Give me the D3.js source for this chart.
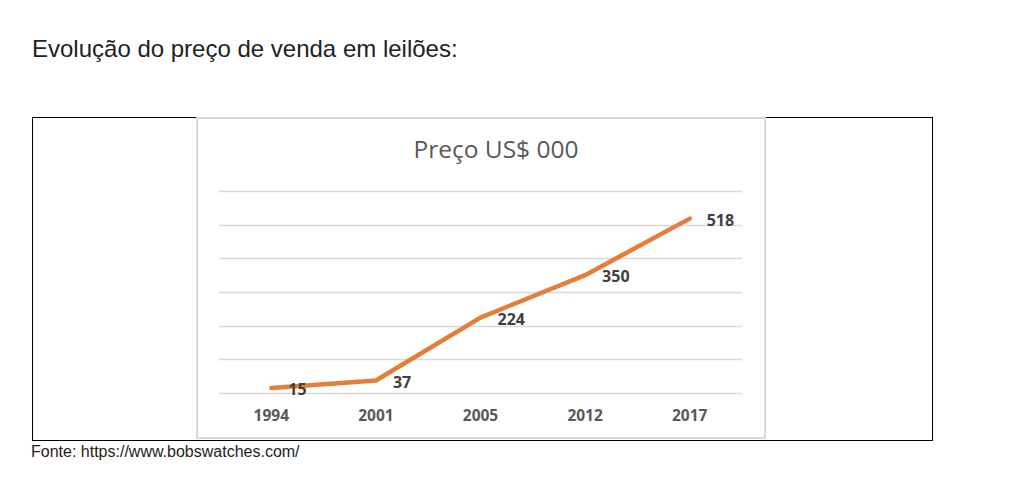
<!DOCTYPE html>
<html>
    <head>
        <meta charset="utf-8">
        <script src="https://d3js.org/d3.v7.min.js"></script>
        <style>
            body { margin: 0; background: #fff; }
        </style>
    </head>
    <body>
        <svg height="489" width="1019" id="chart"></svg>
        <script>
            // data
            const years=["1994", "2001", "2005", "2012", "2017"];
            const prices=[15, 37, 224, 350, 518];
            const yTicks=[0, 100, 200, 300, 400, 500, 600];

            let svg=d3.select("#chart");

            // page heading + source line
            svg.append("text")
                .attr("x", 32).attr("y", 57)
                .style("font-family", "Liberation Sans, Arial, sans-serif")
                .style("font-size", "24px")
                .style("fill", "#222")
                .text("Evolução do preço de venda em leilões:");

            svg.append("text")
                .attr("x", 31).attr("y", 457)
                .style("font-family", "Liberation Sans, Arial, sans-serif")
                .style("font-size", "16px")
                .style("fill", "#222")
                .text("Fonte: https://www.bobswatches.com/");

            // outer black frame
            svg.append("rect")
                .attr("x", 32.5).attr("y", 117.5)
                .attr("width", 900).attr("height", 323)
                .style("fill", "none").style("stroke", "#000").style("stroke-width", 1);

            // inner chart frame
            svg.append("rect")
                .attr("x", 197).attr("y", 118)
                .attr("width", 568).attr("height", 320)
                .style("fill", "#fff").style("stroke", "#d9d9d9").style("stroke-width", 2);

            svg.append("text")
                .attr("x", 496).attr("y", 158)
                .attr("text-anchor", "middle")
                .style("font-family", "Open Sans, sans-serif")
                .style("font-size", "24.5px")
                .style("fill", "#595959")
                .text("Preço US$ 000");

            let x=d3.scaleBand().domain(years).range([219, 742]);
            let y=d3.scaleLinear().domain([0, 600]).range([393, 191]);

            // gridlines
            svg.append("g").selectAll("line")
                .data(yTicks)
                .join("line")
                .attr("x1", 219).attr("x2", 742)
                .attr("y1", d => Math.round(y(d))+0.5)
                .attr("y2", d => Math.round(y(d))+0.5)
                .style("stroke", "#d9d9d9").style("stroke-width", 1.5);

            // x axis labels
            let xAxis=svg.append("g")
                .attr("transform", "translate(0,393)")
                .call(d3.axisBottom(x).tickSize(0).tickPadding(17));
            xAxis.select(".domain").remove();
            xAxis.selectAll("text")
                .style("font-family", "Open Sans, sans-serif")
                .style("font-size", "15.5px")
                .style("font-weight", "bold")
                .style("fill", "#595959");

            let pts=years.map((yr, i) => ({year: yr, v: prices[i]}));
            let line=d3.line()
                .x(d => x(d.year)+x.bandwidth()/2)
                .y(d => y(d.v));

            svg.append("path")
                .datum(pts)
                .attr("d", line)
                .style("fill", "none")
                .style("stroke", "#E47E3A")
                .style("stroke-width", 4.5)
                .style("stroke-linecap", "round")
                .style("stroke-linejoin", "round");

            svg.append("g").selectAll("text")
                .data(pts)
                .join("text")
                .attr("x", d => x(d.year)+x.bandwidth()/2+17)
                .attr("y", d => y(d.v)+7)
                .style("font-family", "Open Sans, sans-serif")
                .style("font-size", "16px")
                .style("font-weight", "bold")
                .style("fill", "#404040")
                .text(d => d.v);
        </script>
    </body>
</html>
